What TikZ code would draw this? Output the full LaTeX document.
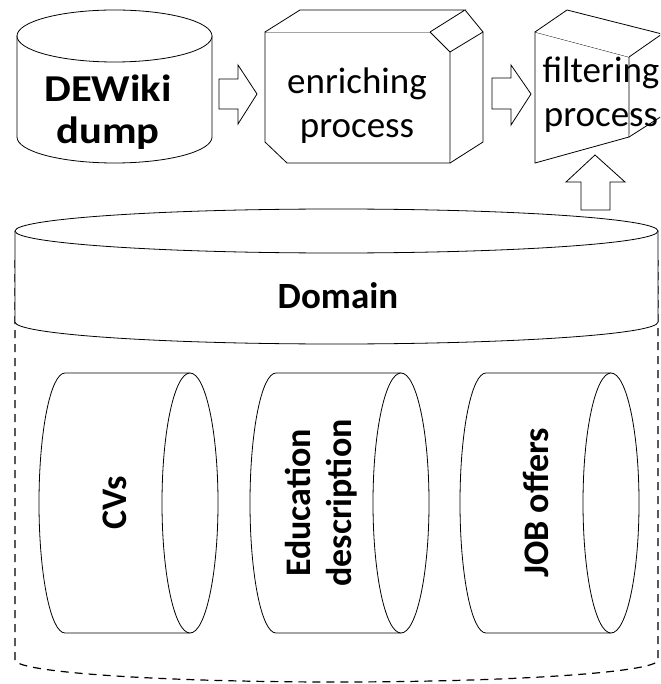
\documentclass[tikz,border=0pt]{standalone}
\usepackage{fontspec}
\setmainfont{Carlito}
\newfontfamily\widefont[FakeStretch=1.12]{Carlito}
\usetikzlibrary{positioning}

\tikzset{
  solid shape/.style={draw, line width=0.8pt, fill=white, line join=miter},
  dash shape/.style={draw, line width=1.2pt, dash pattern=on 8pt off 6pt},
  plain label/.style={font=\fontsize{37}{44}\selectfont, align=center, inner sep=0pt},
  bold label/.style={font=\fontsize{36}{41}\selectfont\bfseries, align=center, inner sep=0pt},
}

\begin{document}
\begin{tikzpicture}[x=1pt, y=-1pt]
    \useasboundingbox (0,0) rectangle (660,684);
    \fill[white] (0,0) rectangle (660,684);
    \clip (0,0) rectangle (660,684);

    % DEWiki dump cylinder
    \draw[solid shape] (17,36) -- (17,137) arc[start angle=180, end angle=0, x radius=97.5, y radius=26] -- (212,36);
    \draw[solid shape] (114.5,36) ellipse[x radius=97.5, y radius=26];
    \node[bold label, font=\fontsize{38}{42}\selectfont\widefont\bfseries] (dewiki) at (108,112) {DEWiki\\dump};

    % block arrows
    \draw[solid shape] (219,79) -- (238,79) -- (238,65) -- (257,94) -- (238,124) -- (238,109) -- (219,109) -- cycle;
    \draw[solid shape] (492,78) -- (511,78) -- (511,65) -- (531,94) -- (511,125) -- (511,109) -- (492,109) -- cycle;
    \draw[solid shape] (581,210) -- (581,182) -- (566,182) -- (595,155) -- (625,182) -- (610,182) -- (610,210) -- cycle;

    % enriching process box
    \draw[solid shape] (265,32) -- (430,32) -- (450,52) -- (450,163) -- (287,163) -- (265,142) -- cycle;
    \draw[solid shape] (265,32) -- (300,10) -- (465,10) -- (430,32);
    \draw[solid shape] (465,10) -- (483,32) -- (450,52);
    \draw[solid shape] (483,32) -- (483,142) -- (450,163);
    \node[plain label] (enrich) at (357,106) {enriching\\process};

    % filtering process funnel
    \draw[solid shape] (535,32) -- (629,57) -- (629,137) -- (535,163) -- cycle;
    \draw[solid shape] (535,32) -- (567,10) -- (662,34) -- (629,57);
    \draw[solid shape] (662,34) -- (662,116) -- (629,137);
    \node[plain label] (filter) at (601,95) {filtering\\process};

    % Domain store
    \draw[dash shape] (15,260) -- (15,660) arc[start angle=180, end angle=0, x radius=321.5, y radius=22] -- (658,260);
    \draw[solid shape] (15,231) -- (15,322) arc[start angle=180, end angle=0, x radius=321.5, y radius=22] -- (658,231);
    \draw[solid shape] (336.5,231) ellipse[x radius=321.5, y radius=22];
    \node[bold label, font=\fontsize{37}{41}\selectfont\bfseries, anchor=base] (domain) at (338,308) {Domain};

    % inner stores
    \foreach \nm/\lx/\tx/\txt in {cvs/65/114.5/CVs, edu/276/321/Education\\description, jobs/486/536/JOB offers}{
      \draw[solid shape] (\lx+125,373) -- (\lx,373) arc[start angle=270, end angle=90, x radius=26, y radius=130] -- (\lx+125,633);
      \draw[solid shape] (\lx+125,503) ellipse[x radius=28, y radius=130];
      \node[bold label, rotate=90] (\nm) at (\tx,503) {\txt};
    }
\end{tikzpicture}
\end{document}
